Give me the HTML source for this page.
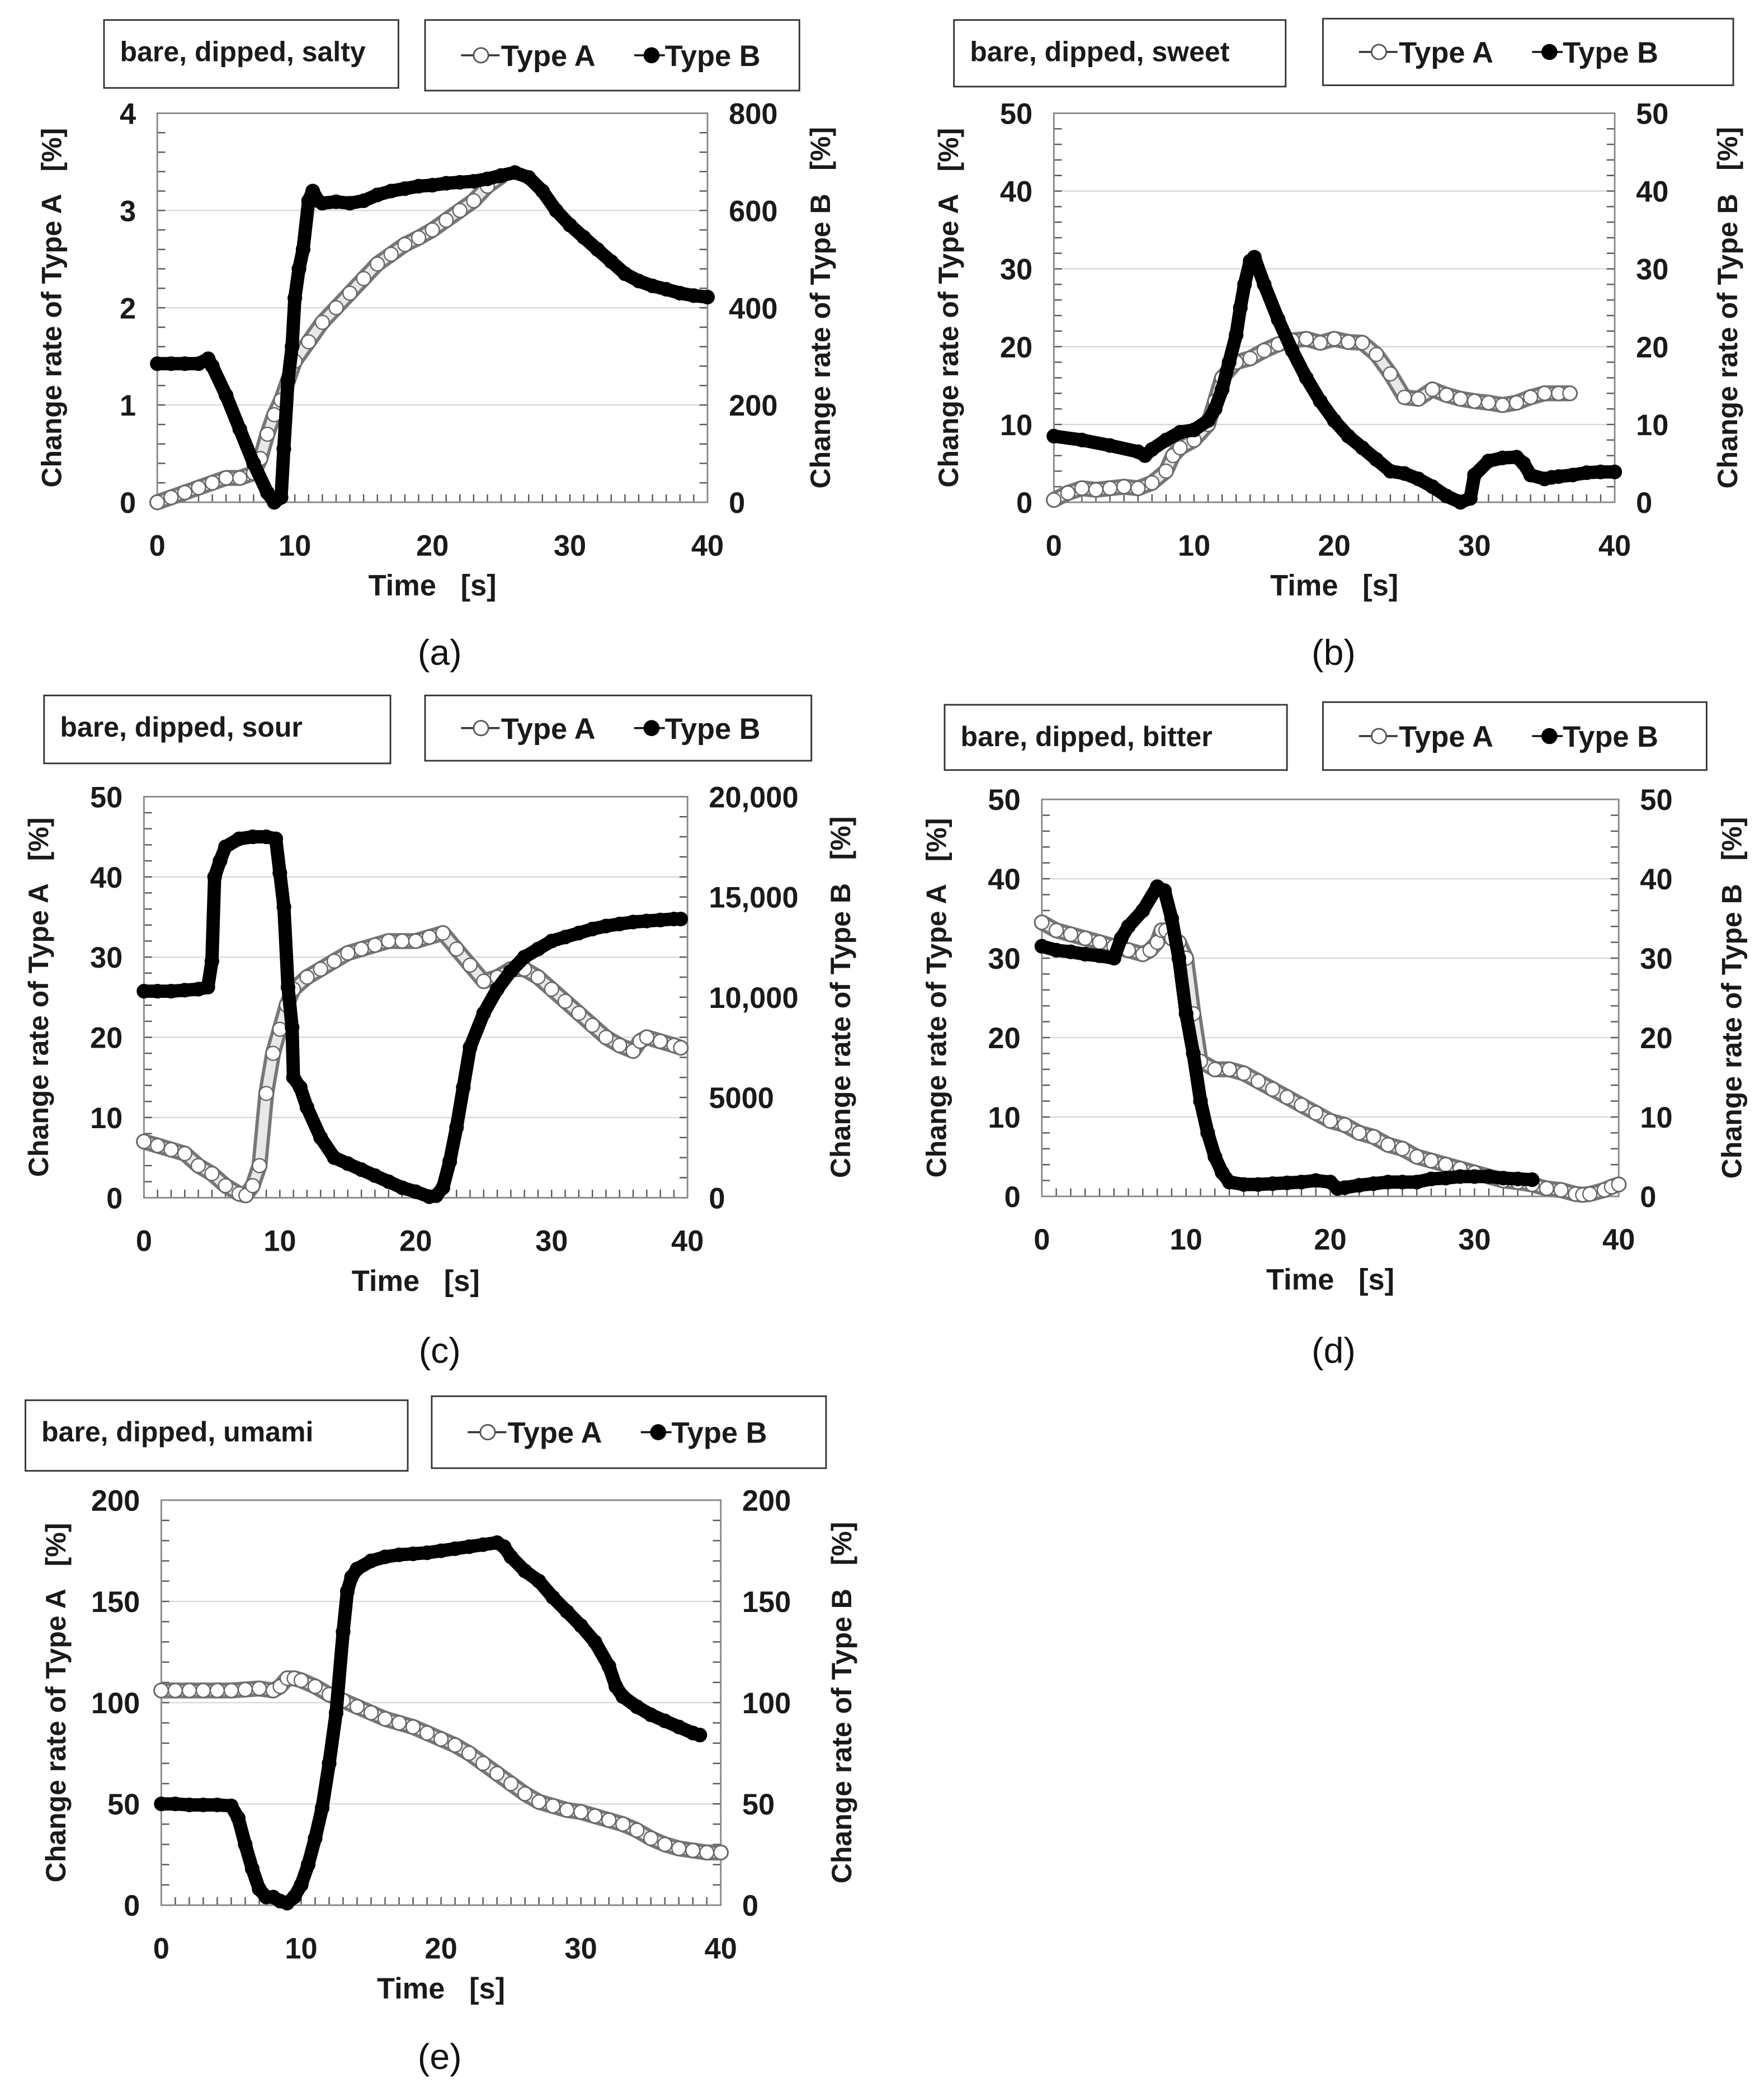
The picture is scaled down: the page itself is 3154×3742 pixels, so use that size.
<!DOCTYPE html>
<html><head><meta charset="utf-8">
<style>
html,body{margin:0;padding:0;background:#fff;}
svg{display:block;}
text{font-family:"Liberation Sans",sans-serif;white-space:pre;}
</style></head>
<body>
<svg id="fig" width="3154" height="3742" viewBox="0 0 1324 1571" xmlns="http://www.w3.org/2000/svg"></svg>
<script>
// ---------- data ----------
const timeTicks = ["0","10","20","30","40"];
// (a) salty
const aTicksL = ["0","1","2","3","4"];
const aTicksR = ["0","200","400","600","800"];
const aTimeA = [0,1,2,3,4,5,6,7,7.5,8,8.5,9,9.5,10,11,12,13,14,15,16,17,18,19,20,21,22,23,24,25];
const aValA  = [0,0.05,0.1,0.15,0.2,0.25,0.25,0.3,0.45,0.7,0.9,1.05,1.25,1.45,1.65,1.85,2.0,2.15,2.3,2.45,2.55,2.65,2.72,2.8,2.9,3.0,3.1,3.25,3.35];
const aTimeB = [0,1,2,3,3.7,4,5,6,7,8,8.5,9,9.2,9.5,9.8,10,10.3,10.6,11,11.3,11.7,12,13,14,15,16,17,18,19,20,21,22,23,24,25,26,27,28,29,30,31,32,33,34,35,36,37,38,39,40];
const aValB  = [285,285,285,285,295,280,220,150,80,20,0,10,110,250,320,420,480,520,620,640,620,615,618,615,620,632,640,645,650,652,656,658,660,665,672,678,668,640,600,570,545,520,495,470,455,445,438,430,425,422];
// (b) sweet
const bTicksL = ["0","10","20","30","40","50"];
const bTicksR = ["0","10","20","30","40","50"];
const bTimeA = [0,1,2,3,4,5,6,7,8,8.5,9,10,11,11.5,12,13,14,15,16,17,18,19,20,21,22,23,24,25,26,27,28,29,30,31,32,33,34,35,36,36.8];
const bValA  = [0.3,1.2,1.8,1.6,1.8,2,1.8,2.5,4,6,7,8,10,13,16,18,18.5,19.5,20.3,20.8,21,20.5,21,20.6,20.5,19,16.5,13.5,13.3,14.5,13.8,13.3,13,12.8,12.5,12.8,13.5,14,14,14];
const bTimeB = [0,2,4,6,6.5,7,8,9,10,11,11.5,12,12.5,13,13.3,13.6,14,14.3,15,16,17,18,19,20,21,22,23,24,25,26,27,28,29,29.7,30,31,32,33,33.5,34,35,35.5,36,37,38,39,40];
const bValB  = [8.5,8,7.3,6.5,6,6.8,8,9,9.3,10.5,12,14.5,18,21.5,25,28,31,31.5,28,23.5,19.5,16,13,10.5,8.5,7,5.5,4,3.7,3,2,0.8,0,0.5,3.5,5.3,5.7,5.8,5,3.5,3,3.2,3.3,3.5,3.8,3.9,3.9];
// (c) sour
const cTicksL = ["0","10","20","30","40","50"];
const cTicksR = ["0","5000","10,000","15,000","20,000"];
const cTimeA = [0,1,2,3,4,5,6,7,7.5,8,8.5,9,9.5,10,10.5,11,12,13,14,15,16,17,18,19,20,21,22,23,24,25,26,27,28,29,30,31,32,33,34,35,36,36.5,37,38,39,39.5];
const cValA  = [7,6.5,6,5.5,4,3,1.5,0.5,0.3,1.5,4,13,18,21,24,26,27.5,28.5,29.5,30.5,31,31.5,32,32,32,32.5,33,31,29,27,27.5,28.5,28.5,27.5,26,24.5,23,21.5,20,19,18.3,19.5,20,19.5,19,18.7];
const cTimeB = [0,1,2,3,4,4.7,5,5.2,5.6,6,7,8,9,9.7,10,10.3,10.6,10.9,11,11.5,12,13,14,15,16,17,18,19,20,21,21.5,22,22.5,23,23.5,24,25,26,27,28,29,30,31,32,33,34,35,36,37,38,39,39.5];
const cValB  = [10300,10300,10300,10350,10400,10500,11800,16000,16800,17500,17900,18000,18000,17900,16200,14500,10500,8500,6000,5500,4500,3000,2000,1700,1400,1100,800,500,300,50,100,500,1800,3500,5500,7500,9200,10400,11300,12000,12400,12800,13000,13200,13400,13550,13650,13750,13800,13850,13900,13900];
// (d) bitter
const dTicksL = ["0","10","20","30","40","50"];
const dTicksR = ["0","10","20","30","40","50"];
const dTimeA = [0,1,2,3,4,5,6,7,7.5,8,8.3,8.6,9,9.5,10,10.5,11,12,13,14,15,16,17,18,19,20,21,22,23,24,25,26,27,28,29,30,31,32,33,34,35,36,37,37.5,38,39,39.5,40];
const dValA  = [34.5,33.5,33,32.5,32,31.5,31,30.5,31,32,33.5,33.5,32.5,32,30,23,17,16,16,15.5,14.5,13.5,12.5,11.5,10.5,9.5,9,8,7.5,6.5,6,5,4.5,4,3.5,3,2.5,2,1.8,1.5,1,0.8,0.3,0.2,0.3,0.8,1.2,1.5];
const dTimeB = [0,1,2,3,4,5,5.5,6,7,8,8.5,9,9.5,10,10.5,11,11.5,12,12.5,13,14,15,16,17,18,19,20,20.5,21,22,23,24,25,26,27,28,29,30,31,32,33,34];
const dValB  = [31.5,31,30.8,30.5,30.3,30,32.5,34,36,39,38.5,35,30,23,18,12,8,5,3,1.8,1.5,1.5,1.6,1.7,1.8,2,1.8,1,1.1,1.4,1.6,1.8,1.8,1.8,2.2,2.3,2.5,2.5,2.5,2.3,2.2,2.1];
// (e) umami
const eTicksL = ["0","50","100","150","200"];
const eTicksR = ["0","50","100","150","200"];
const eTimeA = [0,1,2,3,4,5,6,7,8,8.5,9,9.5,10,11,12,13,14,15,16,17,18,19,20,21,22,23,24,25,26,27,28,29,30,31,32,33,34,35,36,37,38,39,40];
const eValA  = [106,106,106,106,106,106,106.5,107,106,108,112,112,111,108,104,101,98,95,92,90,88,85,82,79,75,70,65,60,55,51,49,47,46,44,42,40,37,33,30,28,27,26,26];
const eTimeB = [0,1,2,3,4,5,5.5,6,6.5,7,7.5,8,8.5,9,9.5,10,10.5,11,11.5,12,12.5,13,13.3,13.6,14,15,16,17,18,19,20,21,22,23,24,24.5,25,26,27,28,29,30,31,32,32.5,33,34,35,36,37,38,38.5];
const eValB  = [50,50,49.5,49.5,49.5,49,43,30,18,8,4,4,2,1,4,10,20,33,48,70,95,135,155,162,166,170,172,173,173.5,174,175,176,177,178,179,177,172,165,160,152,145,138,130,118,108,103,98,94,91,88,85,84];

// ---------- drawing ----------
const NS = "http://www.w3.org/2000/svg";
const svg = document.getElementById('fig');
function mk(tag, attrs, parent){
  const e = document.createElementNS(NS, tag);
  for (const k in attrs) e.setAttribute(k, attrs[k]);
  (parent||svg).appendChild(e);
  return e;
}
function txt(s, x, y, size, parent, anchor, extra){
  const t = mk('text', Object.assign({x:x, y:y, 'font-size':size, 'font-weight':'bold', 'text-anchor':anchor||'middle', fill:'#1a1a1a'}, extra||{}), parent);
  t.textContent = s;
  return t;
}

const panels = [
  {id:'a', label:'bare, dipped, salty', px:118, py:85, pw:413, ph:292, rOff:92, tb:[78,15,221,51], lg:[319,15,281,53], maxL:4, maxR:800, ticksL:aTicksL, ticksR:aTicksR, minorL:20, minorR:20, tA:aTimeA, vA:aValA, tB:aTimeB, vB:aValB, cap:[330,490]},
  {id:'b', label:'bare, dipped, sweet', px:791, py:85, pw:421, ph:292, rOff:92, tb:[716,15,249,50], lg:[993,14,308,50], maxL:50, maxR:50, ticksL:bTicksL, ticksR:bTicksR, minorL:25, minorR:25, tA:bTimeA, vA:bValA, tB:bTimeB, vB:bValB, cap:[1001,490]},
  {id:'c', label:'bare, dipped, sour', px:108, py:598, pw:408, ph:301, rOff:122, tb:[33,522,260,51], lg:[319,522,290,49], maxL:50, maxR:20000, ticksL:cTicksL, ticksR:cTicksR, minorL:25, minorR:20, tA:cTimeA, vA:cValA, tB:cTimeB, vB:cValB, cap:[330,1014]},
  {id:'d', label:'bare, dipped, bitter', px:782, py:600, pw:433, ph:298, rOff:92, tb:[709,529,257,49], lg:[993,527,288,51], maxL:50, maxR:50, ticksL:dTicksL, ticksR:dTicksR, minorL:25, minorR:25, tA:dTimeA, vA:dValA, tB:dTimeB, vB:dValB, cap:[1001,1014]},
  {id:'e', label:'bare, dipped, umami', px:121, py:1126, pw:420, ph:304, rOff:98, tb:[19,1051,287,53], lg:[324,1048,296,54], maxL:200, maxR:200, ticksL:eTicksL, ticksR:eTicksR, minorL:20, minorR:20, tA:eTimeA, vA:eValA, tB:eTimeB, vB:eValB, cap:[330,1544]}
];

panels.forEach(p => {
  const g = mk('g', {});
  
  
  const xS = t => p.px + t / 40 * p.pw;
  const yL = v => p.py + p.ph - v / p.maxL * p.ph;
  const yR = v => p.py + p.ph - v / p.maxR * p.ph;

  const tbg = mk('g', {}, g);
  
  
  mk('rect', {x:p.tb[0], y:p.tb[1], width:p.tb[2], height:p.tb[3], fill:'#fff', stroke:'#333', 'stroke-width':1.2}, tbg);
  txt(p.label, p.tb[0]+12, p.tb[1]+31, 21, tbg, 'start');

  const lg = mk('g', {}, g);
  
  
  mk('rect', {x:p.lg[0], y:p.lg[1], width:p.lg[2], height:p.lg[3], fill:'#fff', stroke:'#333', 'stroke-width':1.2}, lg);
  const ly = p.lg[1] + p.lg[3]/2;
  const eA = mk('g', {}, lg);
  
  
  mk('line', {x1:p.lg[0]+27, y1:ly, x2:p.lg[0]+56, y2:ly, stroke:'#333', 'stroke-width':1.5}, eA);
  mk('circle', {cx:p.lg[0]+42, cy:ly, r:5.5, fill:'#fff', stroke:'#555', 'stroke-width':1.2}, eA);
  txt('Type A', p.lg[0]+57, ly+8, 22, eA, 'start');
  const eB = mk('g', {}, lg);
  
  
  mk('line', {x1:p.lg[0]+157, y1:ly, x2:p.lg[0]+180, y2:ly, stroke:'#111', 'stroke-width':1.5}, eB);
  mk('circle', {cx:p.lg[0]+170, cy:ly, r:6, fill:'#000'}, eB);
  txt('Type B', p.lg[0]+180, ly+8, 22, eB, 'start');

  p.ticksL.forEach((s, i) => {
    const y = p.py + p.ph - i/(p.ticksL.length-1)*p.ph;
    if (i>0 && i<p.ticksL.length-1) {
      const gl = mk('line', {x1:p.px, y1:y, x2:p.px+p.pw, y2:y, stroke:'#d9d9d9', 'stroke-width':1}, g);
      
      
    }
    const tl = txt(s, p.px-16, y+8, 22, g, 'end');
    
    
  });
  p.ticksR.forEach((s, i) => {
    const y = p.py + p.ph - i/(p.ticksR.length-1)*p.ph;
    const tl = txt(s, p.px+p.pw+16, y+8, 22, g, 'start');
    
    
  });
  let tk = '';
  for (let i=1;i<p.minorL;i++){ const y = p.py + p.ph - i/p.minorL*p.ph; tk += `M${p.px} ${y}h6`; }
  for (let i=1;i<p.minorR;i++){ const y = p.py + p.ph - i/p.minorR*p.ph; tk += `M${p.px+p.pw} ${y}h-6`; }
  for (let i=1;i<40;i++){ const x = xS(i); tk += `M${x} ${p.py+p.ph}v-6`; }
  mk('path', {d:tk, stroke:'#555', 'stroke-width':1, fill:'none'}, g);
  const fr = mk('rect', {x:p.px, y:p.py, width:p.pw, height:p.ph, fill:'none', stroke:'#888', 'stroke-width':1.2}, g);
  
  
  timeTicks.forEach((s, i) => {
    const tl = txt(s, xS(i*10), p.py+p.ph+40, 22, g, 'middle');
    
    
  });
  const xt = txt('Time   [s]', p.px+p.pw/2, p.py+p.ph+70, 22, g, 'middle');
  
  
  const cy = p.py + p.ph/2;
  const ytl = txt('Change rate of Type A   [%]', 0, 0, 21, g, 'middle', {transform:`translate(${p.px-72},${cy}) rotate(-90)`});
  
  
  const ytr = txt('Change rate of Type B   [%]', 0, 0, 21, g, 'middle', {transform:`translate(${p.px+p.pw+p.rOff},${cy}) rotate(-90)`});
  
  
  const cap = mk('text', {x:p.cap[0], y:p.cap[1]+9, 'font-size':27, 'text-anchor':'middle', 'font-family':'"Liberation Serif",serif', fill:'#111'}, g);
  cap.textContent = '(' + p.id + ')';
  
  

  const ptsA = p.tA.map((t,i) => xS(t)+','+yL(p.vA[i])).join(' ');
  const sA = mk('g', {}, g);
  
  
  mk('polyline', {points:ptsA, fill:'none', stroke:'#777', 'stroke-width':12, 'stroke-linejoin':'round', 'stroke-linecap':'round'}, sA);
  mk('polyline', {points:ptsA, fill:'none', stroke:'#e8e8e8', 'stroke-width':7, 'stroke-linejoin':'round', 'stroke-linecap':'round'}, sA);
  p.tA.forEach((t,i) => {
    const c = mk('circle', {cx:xS(t), cy:yL(p.vA[i]), r:5.2, fill:'#fff', stroke:'#666', 'stroke-width':1}, sA);
    
    
  });
  const ptsB = p.tB.map((t,i) => xS(t)+','+yR(p.vB[i])).join(' ');
  const sB = mk('g', {}, g);
  
  
  mk('polyline', {points:ptsB, fill:'none', stroke:'#000', 'stroke-width':10, 'stroke-linejoin':'round', 'stroke-linecap':'round'}, sB);
  p.tB.forEach((t,i) => {
    const c = mk('circle', {cx:xS(t), cy:yR(p.vB[i]), r:5.5, fill:'#000'}, sB);
    
    
  });
});
</script>
</body></html>
